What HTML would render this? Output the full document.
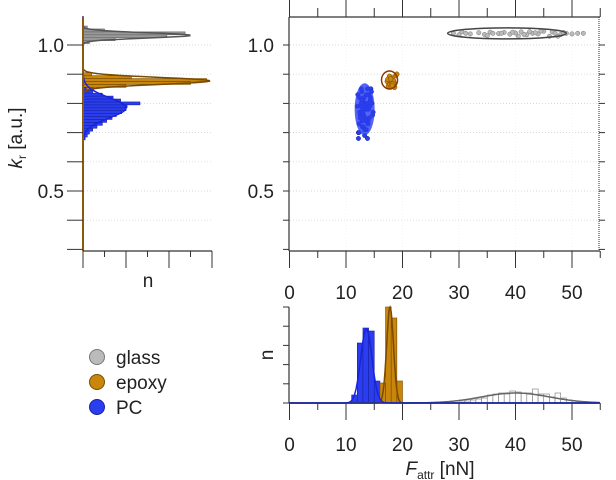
<!DOCTYPE html>
<html><head><meta charset="utf-8"><style>
body{margin:0;background:#fff;}
svg{display:block;font-family:"Liberation Sans",Arial,sans-serif;}
</style></head><body>
<svg id="c" width="616" height="480"></svg>
<script>
// ---- data ----
const pcF=[12.1,12.4,12.8,13.0,13.2,13.5,13.7,14.0,14.3,14.6,12.6,13.1,13.4,13.9,12.3,12.9,13.6,14.2,14.8,12.2,13.3,13.8,12.7,14.4,13.0,12.5,13.5,14.1,12.0,13.2,14.5,12.8,13.7,12.4,13.1,13.9,14.7,12.6,13.4,12.9,13.6,14.0,12.3,13.3,12.2,13.8,12.7,14.3,12.5,13.0];
const pcK=[0.83,0.82,0.84,0.81,0.80,0.79,0.78,0.83,0.81,0.80,0.77,0.76,0.75,0.74,0.73,0.72,0.71,0.79,0.77,0.70,0.69,0.68,0.85,0.85,0.78,0.76,0.74,0.75,0.79,0.82,0.84,0.81,0.80,0.77,0.72,0.73,0.76,0.79,0.78,0.74,0.83,0.78,0.70,0.71,0.68,0.85,0.80,0.82,0.75,0.77];
const epF=[17.3,17.6,17.9,18.2,18.5,17.5,17.8,18.1,18.4,17.7,18.0,18.3,17.4,18.8,19.0,18.6,17.9,18.2];
const epK=[0.875,0.88,0.89,0.885,0.87,0.86,0.865,0.872,0.878,0.893,0.858,0.868,0.882,0.895,0.9,0.855,0.884,0.862];
const glF=[29.0,30.0,30.5,31.2,32.0,33.5,34.5,35.5,36.0,37.0,38.0,39.0,40.0,41.0,42.0,43.0,44.0,45.0,46.0,46.5,47.0,48.0,48.5,49.0,50.0,51.0,35.0,37.5,39.5,41.5,43.5,40.5,42.5,47.5,52.0,44.5];
const glK=[1.04,1.035,1.045,1.04,1.038,1.042,1.036,1.044,1.04,1.039,1.043,1.037,1.041,1.045,1.035,1.04,1.038,1.047,1.03,1.045,1.04,1.036,1.043,1.04,1.038,1.04,1.032,1.04,1.044,1.036,1.042,1.03,1.046,1.03,1.04,1.048];
const pcBins=[11,12,13,14,15];
const pcCounts=[8,60,75,72,22];
const epBins=[16,17,18,19];
const epCounts=[20,96,85,22];
const glBins=[30,31,32,33,34,35,36,37,38,39,40,41,42,43,44,45,46,47,48,49,50];
const glCounts=[1,2,3,4,5,8,9,10,9,12,11,10,10,14,9,9,6,10,5,3,2];
const pcFit=[13.6,1.0,74];
const epFit=[17.8,0.6,96];
const glFit=[40,6,10];
const pcKBins=[0.68,0.69,0.70,0.71,0.72,0.73,0.74,0.75,0.76,0.77,0.78,0.79,0.80,0.81,0.82,0.83,0.84,0.85];
const pcKCounts=[2,4,6,9,13,18,22,27,31,36,40,41,53,35,28,18,9,3];
const epKBins=[0.85,0.86,0.87,0.88,0.89,0.90];
const epKCounts=[10,40,100,115,45,8];
const glKBins=[1.01,1.02,1.03,1.04,1.05,1.06];
const glKCounts=[6,30,78,95,20,4];
const pcKFit=[0.785,0.035,40];
const epKFit=[0.877,0.012,118];
const glKFit=[1.033,0.009,100];
const xTicks=[0,10,20,30,40,50];
const yTicks=[0.5,1.0];

const S=document.getElementById('c');const NS='http://www.w3.org/2000/svg';
function mk(t,a,p){const e=document.createElementNS(NS,t);for(const k in a)e.setAttribute(k,a[k]);(p||S).appendChild(e);return e;}
const X=f=>289.5+f*5.65;
const Y=k=>45+(1.0-k)*292;
const NX=n=>83+n*1.075;
const NY=n=>403+-n*1.0;
const ax='#333';const FS=19;
const colE='#c8860a',colP='#2a3ef0';
let g=mk('g',{});
for(let k=0.4;k<=1.01;k+=0.1){mk('line',{x1:290,x2:598,y1:Y(k),y2:Y(k),stroke:'#ccc','stroke-dasharray':'1,2','stroke-width':0.7},g);}
for(let k=0.4;k<=1.01;k+=0.1){mk('line',{x1:84,x2:212,y1:Y(k),y2:Y(k),stroke:'#ccc','stroke-dasharray':'1,2','stroke-width':0.7},g);}
for(const f of [10,20,30,40,50]){mk('line',{x1:X(f),x2:X(f),y1:18,y2:250,stroke:'#eee','stroke-dasharray':'1,2','stroke-width':0.7},g);}
g=mk('g',{});
mk('line',{x1:289,x2:600,y1:17,y2:17,stroke:ax,'stroke-width':1.2},g);
mk('line',{x1:289,x2:600,y1:251,y2:251,stroke:ax,'stroke-width':1.2},g);
mk('line',{x1:289,x2:289,y1:17,y2:251,stroke:ax,'stroke-width':1.2},g);
mk('line',{x1:599,x2:599,y1:17,y2:251,stroke:ax,'stroke-width':1,'stroke-dasharray':'1,1'},g);
for(let f=0;f<=55;f+=5){const maj=f%10==0;
 mk('line',{x1:X(f),x2:X(f),y1:251,y2:maj?268:258,stroke:ax,'stroke-width':1},g);
 mk('line',{x1:X(f),x2:X(f),y1:17,y2:maj?0:8,stroke:ax,'stroke-width':1},g);}
for(let k=0.3;k<=1.06;k+=0.1){mk('line',{x1:283,x2:289,y1:Y(k),y2:Y(k),stroke:ax},g);mk('line',{x1:599,x2:605,y1:Y(k),y2:Y(k),stroke:ax},g);}
for(const t of xTicks){const e=mk('text',{x:X(t),y:299,'text-anchor':'middle','font-size':FS,fill:'#222'},g);e.textContent=t;}
for(const t of yTicks){const e=mk('text',{x:274,y:Y(t)+7,'text-anchor':'end','font-size':FS,fill:'#222'},g);e.textContent=t.toFixed(1);}
function scat(F,K,col,st,name,r){const gg=mk('g',{});F.forEach((f,i)=>mk('circle',{cx:X(f),cy:Y(K[i]),r:r,fill:col,stroke:st,'stroke-width':0.5},gg));return gg;}
scat(glF,glK,'#bbb','#777','glass-points',2.2);
mk('ellipse',{cx:X(38.5),cy:Y(1.04),rx:5.65*10.5,ry:5.5,fill:'none',stroke:'#444','stroke-width':1.5,});
scat(epF,epK,colE,'#7a4a00','epoxy-points',2.4);
mk('ellipse',{cx:X(17.7),cy:Y(0.88),rx:8,ry:9,fill:'none',stroke:'#8a3a00','stroke-width':1.5,});
scat(pcF,pcK,colP,'#1a22a0','pc-points',2.2);
mk('ellipse',{cx:X(13.3),cy:Y(0.78),rx:10,ry:26,fill:'#2a3ef0','opacity':0.8,});
g=mk('g',{});
function hbarsL(B,C,col,st,name){const gg=mk('g',{},g);B.forEach((b,i)=>mk('rect',{x:83,y:Y(b+0.005),width:NX(C[i])-83,height:Y(b-0.005)-Y(b+0.005),fill:col,stroke:st,'stroke-width':0.6},gg));}
function curveL(p,col,name){let d='';for(let k=0.3;k<=1.1;k+=0.002){const n=p[2]*Math.exp(-0.5*((k-p[0])/p[1])**2);d+=(d?'L':'M')+NX(n).toFixed(1)+','+Y(k).toFixed(1);}mk('path',{d,fill:'none',stroke:col,'stroke-width':1.5,},g);}
hbarsL(glKBins,glKCounts,'#999','#666','glass-k-bars');
hbarsL(epKBins,epKCounts,colE,'#7a4a00','epoxy-k-bars');
hbarsL(pcKBins,pcKCounts,colP,'#1a22a0','pc-k-bars');
curveL(glKFit,'#555','glass-k-fit');curveL(epKFit,'#7a4a00','epoxy-k-fit');curveL(pcKFit,'#1a22e0','pc-k-fit');
mk('line',{x1:83,x2:83,y1:17,y2:251,stroke:'#8a5a10','stroke-width':2},g);
for(let k=0.3;k<=1.06;k+=0.1){mk('line',{x1:67,x2:83,y1:Y(k),y2:Y(k),stroke:ax},g);}
mk('line',{x1:83,x2:212,y1:251,y2:251,stroke:ax,'stroke-width':1.2},g);
for(let i=0;i<=6;i++){const x=83+i*21.5;mk('line',{x1:x,x2:x,y1:251,y2:(i%2==0)?268:257,stroke:ax},g);}
for(const t of yTicks){const e=mk('text',{x:64,y:Y(t)+7,'text-anchor':'end','font-size':FS,fill:'#222'},g);e.textContent=t.toFixed(1);}
let e=mk('text',{x:148,y:287,'text-anchor':'middle','font-size':FS,fill:'#222',});e.textContent='n';
e=mk('text',{transform:'translate(22,138) rotate(-90)','text-anchor':'middle','font-size':FS,fill:'#222',});
e.innerHTML='<tspan font-style="italic">k</tspan><tspan font-size="12" dy="4">r</tspan><tspan dy="-4"> [a.u.]</tspan>';
g=mk('g',{});
function bars(B,C,col,st,name){const gg=mk('g',{},g);B.forEach((b,i)=>mk('rect',{x:X(b),y:NY(C[i]),width:5.65,height:403-NY(C[i]),fill:col,stroke:st,'stroke-width':0.6},gg));}
function curve(p,col,name){let d='';for(let f=0;f<=55;f+=0.1){const n=p[2]*Math.exp(-0.5*((f-p[0])/p[1])**2);d+=(d?'L':'M')+X(f).toFixed(1)+','+NY(n).toFixed(1);}mk('path',{d,fill:'none',stroke:col,'stroke-width':1.5,},g);}
bars(glBins,glCounts,'#fff','#777','glass-f-bars');
bars(pcBins,pcCounts,colP,'#1a22a0','pc-f-bars');
bars(epBins,epCounts,colE,'#7a4a00','epoxy-f-bars');
curve(glFit,'#666','glass-f-fit');curve(epFit,'#7a4a00','epoxy-f-fit');curve(pcFit,'#1a22e0','pc-f-fit');
mk('line',{x1:289,x2:600,y1:403,y2:403,stroke:'#1a2aa0','stroke-width':1.6},g);
mk('line',{x1:289,x2:289,y1:307,y2:403,stroke:ax,'stroke-width':1.2},g);
for(let i=0;i<=5;i++){mk('line',{x1:283,x2:289,y1:307+i*19.2,y2:307+i*19.2,stroke:ax},g);}
for(let f=0;f<=55;f+=5){const maj=f%10==0;mk('line',{x1:X(f),x2:X(f),y1:403,y2:maj?420:410,stroke:ax},g);}
for(const t of xTicks){const e2=mk('text',{x:X(t),y:451,'text-anchor':'middle','font-size':FS,fill:'#222'},g);e2.textContent=t;}
e=mk('text',{transform:'translate(273,355) rotate(-90)','text-anchor':'middle','font-size':FS,fill:'#222',});e.textContent='n';
e=mk('text',{x:440,y:475,'text-anchor':'middle','font-size':FS,fill:'#222',});
e.innerHTML='<tspan font-style="italic">F</tspan><tspan font-size="12" dy="4">attr</tspan><tspan dy="-4"> [nN]</tspan>';
g=mk('g',{});
[['glass','#bbb','#777',357],['epoxy',colE,'#7a4a00',382],['PC',colP,'#1a22a0',407]].forEach(r=>{
 const le=mk('g',{},g);
 mk('circle',{cx:97,cy:r[3],r:7.5,fill:r[1],stroke:r[2],'stroke-width':1},le);
 const t=mk('text',{x:116,y:r[3]+7,'font-size':FS,fill:'#222'},le);t.textContent=r[0];});
</script>
</body></html>
